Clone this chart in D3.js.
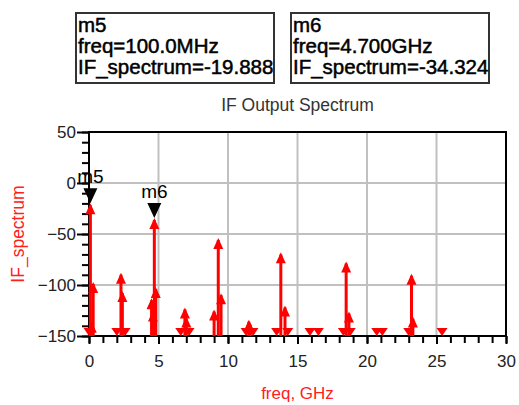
<!DOCTYPE html>
<html>
<head>
<meta charset="utf-8">
<script src="https://cdn.jsdelivr.net/npm/d3@7"></script>
<style>
  body { margin: 0; background: #fff; }
  svg { display: block; font-family: Arial, 'Liberation Sans', sans-serif; }
</style>
</head>
<body>
<svg id="chart" width="519" height="405"></svg>
<script>
// spectrum lines (GHz, dB); values below -150 show as a down head on the axis
const freqs = [0.0, 0.1, 0.2, 0.3, 2.0, 2.3, 2.4, 2.6, 4.5, 4.6, 4.7, 4.8,
  6.6, 6.9, 7.0, 7.2, 9.0, 9.3, 9.5, 11.3, 11.5, 11.6, 11.8, 13.5, 13.8, 14.1, 14.3,
  15.9, 16.5, 18.3, 18.5, 18.7, 18.8, 20.7, 21.1, 23.0, 23.2, 23.3, 25.4]
const levels = [-165, -19.888, -136, -97, -170, -88, -106, -170, -113, -125, -34.324, -102,
  -170, -122, -131, -170, -124, -54, -108, -170, -134, -137, -170, -170, -68, -120, -170,
  -170, -170, -170, -77, -126, -170, -170, -170, -170, -89, -131, -170]

const xTicks = [0, 5, 10, 15, 20, 25, 30]
const yTicks = [50, 0, -50, -100, -150]
const xGrid = [5, 10, 15, 20, 25]
const yGrid = [0, -50, -100]

const markerNames = ['m5', 'm6']
const markerFreqs = [0.1, 4.7]
const markerLevels = [-19.888, -34.324]
const markerFreqText = ['100.0MHz', '4.700GHz']

const svg = d3.select('#chart')
const plotLeft = 89
const plotRight = 506
const plotTop = 132
const plotBottom = 336

const x = d3.scaleLinear().domain([0, 30]).range([plotLeft, plotRight])
const y = d3.scaleLinear().domain([-150, 50]).range([plotBottom, plotTop])

// marker readout boxes
const boxX = [76, 291]
markerNames.forEach((name, i) => {
  const g = svg.append('g').attr('transform', `translate(${boxX[i]}, 13)`)
  g.append('rect')
    .attr('width', 198)
    .attr('height', 70)
    .attr('fill', '#fff')
    .attr('stroke', '#333')
    .attr('stroke-width', 2)
  const lines = [name, `freq=${markerFreqText[i]}`, `IF_spectrum=${markerLevels[i].toFixed(3)}`]
  lines.forEach((t, j) => {
    g.append('text')
      .attr('x', 2)
      .attr('y', 19 + j * 21)
      .attr('font-size', 20.5)
      .attr('fill', '#000')
      .attr('stroke', '#000')
      .attr('stroke-width', 0.5)
      .text(t)
  })
})

// title
svg.append('text')
  .attr('x', (plotLeft + plotRight) / 2)
  .attr('y', 111)
  .attr('text-anchor', 'middle')
  .attr('font-size', 17.5)
  .attr('fill', '#333')
  .text('IF Output Spectrum')

// grid
svg.append('g')
  .selectAll('line')
  .data(xGrid)
  .join('line')
  .attr('x1', d => x(d))
  .attr('x2', d => x(d))
  .attr('y1', plotTop)
  .attr('y2', plotBottom)
  .attr('stroke', '#c0c0c0')
  .attr('stroke-width', 2)

svg.append('g')
  .selectAll('line')
  .data(yGrid)
  .join('line')
  .attr('x1', plotLeft)
  .attr('x2', plotRight)
  .attr('y1', d => y(d))
  .attr('y2', d => y(d))
  .attr('stroke', '#c0c0c0')
  .attr('stroke-width', 2)

// frame
svg.append('rect')
  .attr('x', plotLeft)
  .attr('y', plotTop)
  .attr('width', plotRight - plotLeft)
  .attr('height', plotBottom - plotTop)
  .attr('fill', 'none')
  .attr('stroke', '#000')
  .attr('stroke-width', 2)

// minor ticks
svg.append('g')
  .attr('transform', `translate(0, ${plotBottom})`)
  .call(d3.axisBottom(x).tickValues(d3.range(0, 31, 1)).tickSize(7).tickFormat(''))
  .call(g => g.select('.domain').remove())
  .call(g => g.selectAll('line').attr('stroke-width', 2))

svg.append('g')
  .attr('transform', `translate(${plotLeft}, 0)`)
  .call(d3.axisLeft(y).tickValues(d3.range(-150, 51, 10)).tickSize(7).tickFormat(''))
  .call(g => g.select('.domain').remove())
  .call(g => g.selectAll('line').attr('stroke-width', 2))

// major ticks and labels
svg.append('g')
  .attr('transform', `translate(0, ${plotBottom})`)
  .call(d3.axisBottom(x).tickValues(xTicks).tickSize(8).tickPadding(11))
  .call(g => g.select('.domain').remove())
  .call(g => g.selectAll('line').attr('stroke-width', 2))
  .call(g => g.selectAll('text').attr('font-size', 17).attr('fill', '#222')
    .attr('font-family', 'Arial, Liberation Sans, sans-serif'))

svg.append('g')
  .attr('transform', `translate(${plotLeft}, 0)`)
  .call(d3.axisLeft(y).tickValues(yTicks).tickSize(12).tickPadding(1))
  .call(g => g.select('.domain').remove())
  .call(g => g.selectAll('line').attr('stroke-width', 2))
  .call(g => g.selectAll('text').attr('font-size', 17).attr('fill', '#222')
    .attr('font-family', 'Arial, Liberation Sans, sans-serif'))

// axis titles
svg.append('text')
  .attr('x', (plotLeft + plotRight) / 2)
  .attr('y', 399)
  .attr('text-anchor', 'middle')
  .attr('font-size', 17)
  .attr('fill', '#ff2020')
  .text('freq, GHz')

svg.append('text')
  .attr('transform', `translate(24, ${(plotTop + plotBottom) / 2}) rotate(-90)`)
  .attr('text-anchor', 'middle')
  .attr('font-size', 17.5)
  .attr('fill', '#ff2020')
  .text('IF_spectrum')

// spectrum
const spectrum = freqs.map((f, i) => ({ f, v: levels[i] }))
const visible = spectrum.filter(d => d.v >= -150)
const below = spectrum.filter(d => d.v < -150)
const red = '#ff0000'

svg.append('g')
  .selectAll('line')
  .data(visible)
  .join('line')
  .attr('x1', d => x(d.f))
  .attr('x2', d => x(d.f))
  .attr('y1', plotBottom)
  .attr('y2', d => y(d.v) + 2)
  .attr('stroke', red)
  .attr('stroke-width', 3)

svg.append('g')
  .selectAll('path')
  .data(visible)
  .join('path')
  .attr('d', d => {
    const px = x(d.f)
    const py = y(d.v)
    return `M${px},${py} L${px - 5},${py + 11} L${px + 5},${py + 11} Z`
  })
  .attr('fill', red)

svg.append('g')
  .selectAll('path')
  .data(below)
  .join('path')
  .attr('d', d => {
    const px = x(d.f)
    return `M${px},${plotBottom} L${px - 5.5},${plotBottom - 8} L${px + 5.5},${plotBottom - 8} Z`
  })
  .attr('fill', red)

// markers
markerNames.forEach((name, i) => {
  const px = x(markerFreqs[i])
  const py = y(markerLevels[i])
  svg.append('path')
    .attr('d', `M${px},${py} L${px - 7},${py - 15} L${px + 7},${py - 15} Z`)
    .attr('fill', '#000')
  svg.append('text')
    .attr('x', px)
    .attr('y', py - 20)
    .attr('text-anchor', 'middle')
    .attr('font-size', 19)
    .attr('fill', '#000')
    .text(name)
})
</script>
</body>
</html>
